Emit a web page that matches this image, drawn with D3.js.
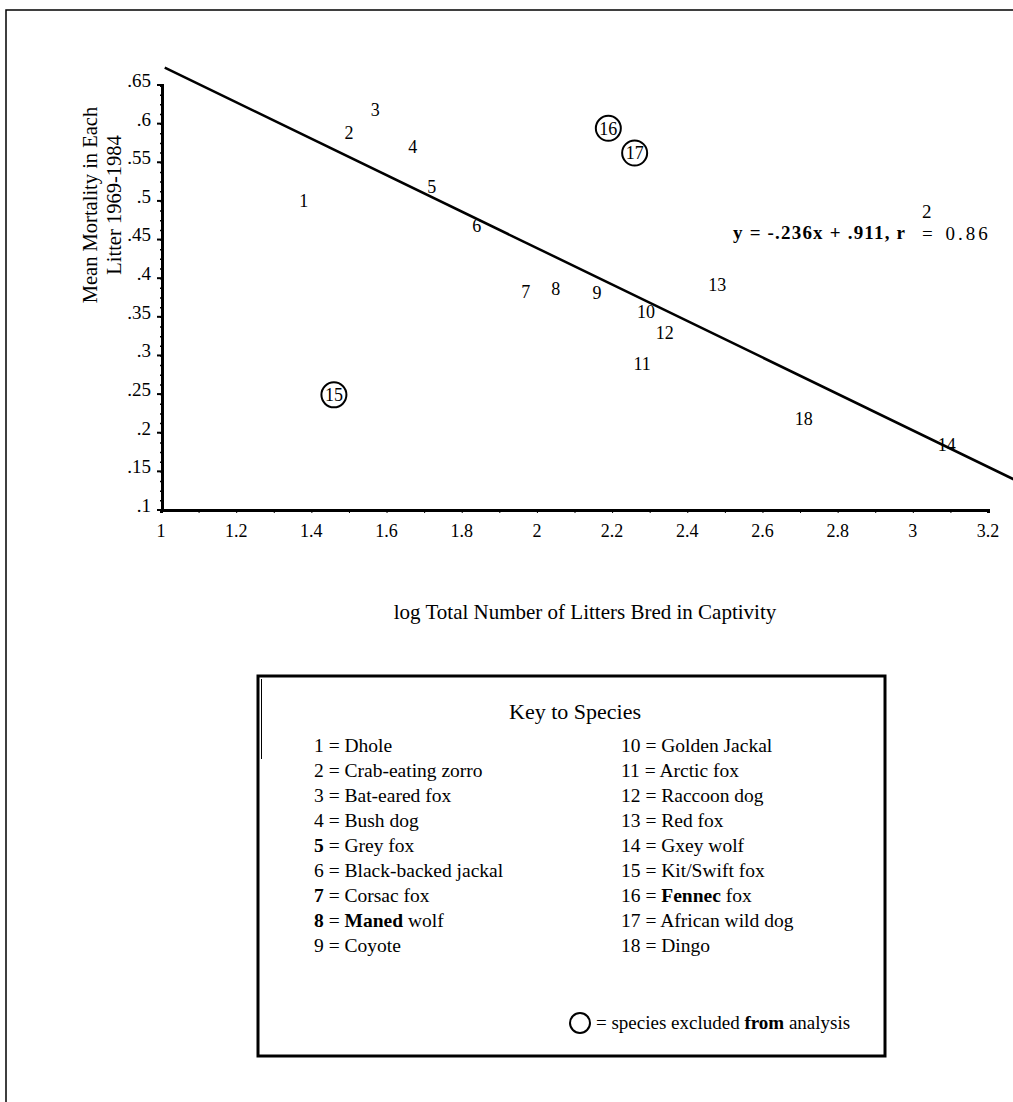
<!DOCTYPE html>
<html>
<head>
<meta charset="utf-8">
<script src="https://cdn.jsdelivr.net/npm/d3@7"></script>
<style>
  body { margin: 0; background: #fff; }
  svg { display: block; font-family: "Liberation Serif", "Times New Roman", serif; }
  .axis { font-family: "Liberation Serif", "Times New Roman", serif; }
  .axis path, .axis line { stroke: #000; }
  .axis text { font-size: 18px; fill: #000; }
</style>
</head>
<body>
<svg id="chart" width="1013" height="1102"></svg>
<script>
var width = 1013,
    height = 1102;

// species numbers, x = log total litters, y = mean mortality
var speciesIds = [1, 2, 3, 4, 5, 6, 7, 8, 9, 10, 11, 12, 13, 14, 15, 16, 17, 18];
var logLitters = [1.38, 1.50, 1.57, 1.67, 1.72, 1.84, 1.97, 2.05, 2.16, 2.29, 2.28, 2.34, 2.48, 3.09, 1.46, 2.19, 2.26, 2.71];
var mortality = [0.500, 0.588, 0.618, 0.570, 0.518, 0.468, 0.383, 0.386, 0.381, 0.356, 0.289, 0.330, 0.392, 0.184, 0.249, 0.594, 0.562, 0.218];
var excluded = [15, 16, 17];

var speciesNames = ["Dhole", "Crab-eating zorro", "Bat-eared fox", "Bush dog", "Grey fox",
  "Black-backed jackal", "Corsac fox", "Maned wolf", "Coyote", "Golden Jackal", "Arctic fox",
  "Raccoon dog", "Red fox", "Gxey wolf", "Kit/Swift fox", "Fennec fox", "African wild dog", "Dingo"];
var boldNumbers = [5, 7, 8];
var boldWords = { 8: "Maned", 16: "Fennec" };

var xLabels = [1, 1.2, 1.4, 1.6, 1.8, 2, 2.2, 2.4, 2.6, 2.8, 3, 3.2];
var yLabels = [0.1, 0.15, 0.2, 0.25, 0.3, 0.35, 0.4, 0.45, 0.5, 0.55, 0.6, 0.65];
var slope = -0.236, intercept = 0.911;

var svg = d3.select("#chart");

var x = d3.scaleLinear().domain([1, 3.2]).range([161, 988]);
var y = d3.scaleLinear().domain([0.1, 0.65]).range([510, 85]);

// page frame
svg.append("path")
    .attr("d", "M6,1102 V10 H1013")
    .attr("fill", "none")
    .attr("stroke", "#000")
    .attr("stroke-width", 1.5);

// x axis
var xAxis = svg.append("g")
    .attr("class", "axis")
    .attr("transform", "translate(0,510)");
xAxis.call(d3.axisBottom(x).tickValues(d3.range(1, 3.21, 0.1)).tickSize(3).tickFormat(""));
xAxis.select(".domain").attr("stroke-width", 3);
xAxis.selectAll(".tick line").attr("stroke-width", 1);
xAxis.selectAll(".lbl")
    .data(xLabels)
    .enter().append("text")
        .attr("class", "lbl")
        .attr("x", d => x(d))
        .attr("y", 27)
        .attr("text-anchor", "middle")
        .text(d => d3.format("")(d));

// y axis
var yAxis = svg.append("g")
    .attr("class", "axis")
    .attr("transform", "translate(162,0)");
yAxis.call(d3.axisLeft(y).tickValues(d3.range(0.1, 0.651, 0.0125)).tickSize(2).tickFormat(""));
yAxis.select(".domain").attr("stroke-width", 3);
yAxis.selectAll(".tick line").attr("stroke-width", 1.5);
yAxis.selectAll(".lbl")
    .data(yLabels)
    .enter().append("text")
        .attr("class", "lbl")
        .attr("x", -11)
        .attr("y", d => y(d))
        .attr("dy", "0.1em")
        .attr("text-anchor", "end")
        .style("font-size", "19px")
        .text(d => d3.format(".2")(d).replace(/^0/, ""));
yAxis.selectAll(".major")
    .data(yLabels)
    .enter().append("line")
        .attr("x1", -5).attr("x2", 0)
        .attr("y1", d => y(d)).attr("y2", d => y(d))
        .attr("stroke", "#000")
        .attr("stroke-width", 2);

// regression line
var lineX = [1.01, 3.27];
svg.append("path")
    .datum(lineX)
    .attr("d", d3.line().x(d => x(d)).y(d => y(slope * d + intercept)))
    .attr("fill", "none")
    .attr("stroke", "#000")
    .attr("stroke-width", 2.5);

// species labels
var points = speciesIds.map((id, i) => ({ id: id, x: logLitters[i], y: mortality[i] }));
var pt = svg.selectAll(".pt")
    .data(points)
    .enter().append("g")
        .attr("class", "pt")
        .attr("transform", d => "translate(" + x(d.x) + "," + y(d.y) + ")");
pt.append("text")
    .attr("text-anchor", "middle")
    .attr("dy", "0.35em")
    .style("font-size", "18px")
    .text(d => d.id);
pt.filter(d => excluded.includes(d.id))
    .append("circle")
        .attr("r", 12.5)
        .attr("fill", "none")
        .attr("stroke", "#000")
        .attr("stroke-width", 2);

// equation
svg.append("text")
    .attr("x", 733)
    .attr("y", 239)
    .attr("textLength", 172)
    .attr("lengthAdjust", "spacing")
    .style("font-size", "19px")
    .style("font-weight", "bold")
    .text("y = -.236x + .911, r");
svg.append("text")
    .attr("x", 922)
    .attr("y", 218)
    .style("font-size", "19px")
    .text("2");
svg.append("text")
    .attr("x", 922)
    .attr("y", 240)
    .style("font-size", "19px")
    .style("letter-spacing", "3px")
    .style("word-spacing", "2px")
    .text("= 0.86");

// axis titles
svg.append("text")
    .attr("transform", "translate(97,205) rotate(-90)")
    .attr("text-anchor", "middle")
    .style("font-size", "20.5px")
    .text("Mean Mortality in Each");
svg.append("text")
    .attr("transform", "translate(121,205) rotate(-90)")
    .attr("text-anchor", "middle")
    .style("font-size", "20.5px")
    .text("Litter 1969-1984");
svg.append("text")
    .attr("x", 585)
    .attr("y", 619)
    .attr("text-anchor", "middle")
    .style("font-size", "21px")
    .text("log Total Number of Litters Bred in Captivity");

// key box
var key = svg.append("g");
key.append("rect")
    .attr("x", 258).attr("y", 676)
    .attr("width", 627).attr("height", 380)
    .attr("fill", "none")
    .attr("stroke", "#000")
    .attr("stroke-width", 3);
key.append("line")
    .attr("x1", 261.5).attr("x2", 261.5)
    .attr("y1", 679).attr("y2", 759)
    .attr("stroke", "#000")
    .attr("stroke-width", 1);
key.append("text")
    .attr("x", 575).attr("y", 719)
    .attr("text-anchor", "middle")
    .style("font-size", "22px")
    .text("Key to Species");

var entries = speciesIds.map((id, i) => ({ id: id, name: speciesNames[i] }));
var rowY = d3.scaleLinear().domain([0, 8]).range([752, 952]);
var ent = key.selectAll(".entry")
    .data(entries)
    .enter().append("text")
        .attr("class", "entry")
        .attr("x", d => d.id <= 9 ? 314 : 621)
        .attr("y", (d, i) => rowY(i % 9))
        .style("font-size", "19.5px");
ent.append("tspan")
    .style("font-weight", d => boldNumbers.includes(d.id) ? "bold" : "normal")
    .text(d => d.id);
ent.append("tspan").text(" = ");
ent.each(function(d) {
    var t = d3.select(this);
    var bw = boldWords[d.id];
    if (bw) {
        t.append("tspan").style("font-weight", "bold").text(bw);
        t.append("tspan").text(d.name.slice(bw.length));
    } else {
        t.append("tspan").text(d.name);
    }
});

key.append("circle")
    .attr("cx", 580).attr("cy", 1023).attr("r", 10)
    .attr("fill", "none")
    .attr("stroke", "#000")
    .attr("stroke-width", 2);
var note = key.append("text")
    .attr("x", 596).attr("y", 1029)
    .style("font-size", "19px");
note.append("tspan").text("= species excluded ");
note.append("tspan").style("font-weight", "bold").text("from");
note.append("tspan").text(" analysis");
</script>
</body>
</html>
